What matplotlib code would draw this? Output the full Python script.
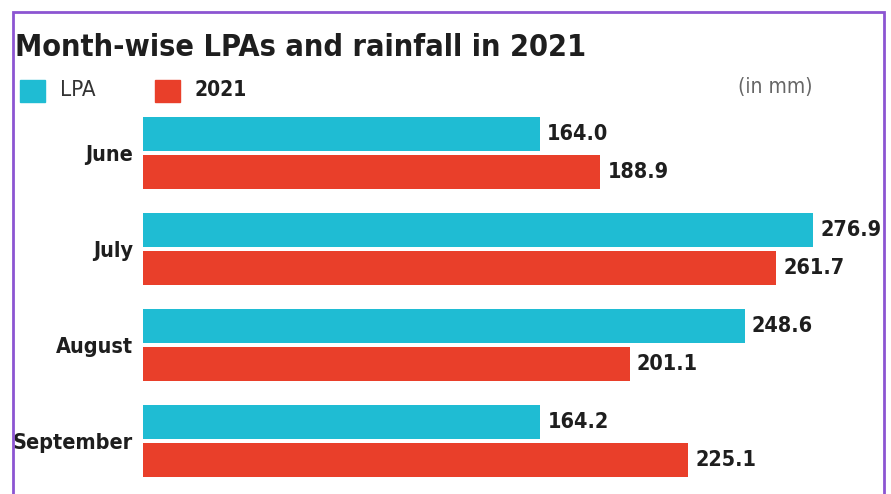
"""
Month-wise LPAs and rainfall in 2021 - horizontal grouped bar chart
"""
import matplotlib
matplotlib.use('Agg')
import matplotlib.pyplot as plt
from matplotlib.patches import Rectangle
import numpy as np

# Data
months = ['June', 'July', 'August', 'September']
lpa = [164.0, 276.9, 248.6, 164.2]
rain_2021 = [188.9, 261.7, 201.1, 225.1]

# Styles
LPA_COLOR = '#1fbcd3'
RAIN_COLOR = '#e93f2a'
TEXT_COLOR = '#1e1e1e'
BORDER_COLOR = '#8c55d2'
FONT = ['DejaVu Sans Condensed', 'DejaVu Sans']
STRETCH = 'condensed'

W, H = 891, 494
fig = plt.figure(figsize=(W / 100, H / 100), dpi=100)
fig.patch.set_facecolor('white')

# Axes placed in pixel terms: x=0 at 143px, data scale ~2.42 px/mm
ax_left, ax_right = 143, 884
ax_top, ax_bottom = 100, 494
ax = fig.add_axes([ax_left / W, 1 - ax_bottom / H,
                   (ax_right - ax_left) / W, (ax_bottom - ax_top) / H])
ax.set_xlim(0, (ax_right - ax_left) / 2.42)
ax.set_ylim((ax_bottom - 153) / 96, (ax_top - 153) / 96)

y = np.arange(len(months))
bar_h = 0.35
off = 0.2
ax.barh(y - off, lpa, height=bar_h, color=LPA_COLOR)
ax.barh(y + off, rain_2021, height=bar_h, color=RAIN_COLOR)

# Value labels
pad = 3.0
for i in range(len(months)):
    ax.text(lpa[i] + pad, y[i] - off, f'{lpa[i]:.1f}', va='center', ha='left',
            fontsize=15.5, fontweight='bold', color=TEXT_COLOR, family=FONT, stretch=STRETCH)
    ax.text(rain_2021[i] + pad, y[i] + off, f'{rain_2021[i]:.1f}', va='center', ha='left',
            fontsize=15.5, fontweight='bold', color=TEXT_COLOR, family=FONT, stretch=STRETCH)

# Month labels
ax.set_yticks(y)
ax.set_yticklabels(months, fontsize=15.5, fontweight='bold', color=TEXT_COLOR,
                   family=FONT, stretch=STRETCH)
ax.tick_params(axis='y', length=0, pad=7)
ax.set_xticks([])
for s in ax.spines.values():
    s.set_visible(False)
ax.patch.set_alpha(0)

# Title
fig.text(15 / W, 1 - 56 / H, 'Month-wise LPAs and rainfall in 2021', ha='left', va='baseline',
         fontsize=22, fontweight='bold', color=TEXT_COLOR, family=FONT, stretch=STRETCH)

# Legend
fig.patches.append(Rectangle((20 / W, 1 - 102 / H), 25 / W, 22 / H,
                             transform=fig.transFigure, color=LPA_COLOR))
fig.text(60 / W, 1 - 90 / H, 'LPA', ha='left', va='center',
         fontsize=16, color='#333333', family=FONT, stretch=STRETCH)
fig.patches.append(Rectangle((155 / W, 1 - 102 / H), 25 / W, 22 / H,
                             transform=fig.transFigure, color=RAIN_COLOR))
fig.text(195 / W, 1 - 90 / H, '2021', ha='left', va='center',
         fontsize=15, fontweight='bold', color=TEXT_COLOR, family=FONT, stretch=STRETCH)

# Unit note
fig.text(812 / W, 1 - 87 / H, '(in mm)', ha='right', va='center',
         fontsize=15, color='#666666', family=FONT, stretch=STRETCH)

# Purple frame
fig.patches.append(Rectangle((13 / W, -0.05), (884 - 13) / W, 1.05 - 12 / H,
                             transform=fig.transFigure, fill=False,
                             edgecolor=BORDER_COLOR, linewidth=2))

fig.savefig('out.png', dpi=100)
